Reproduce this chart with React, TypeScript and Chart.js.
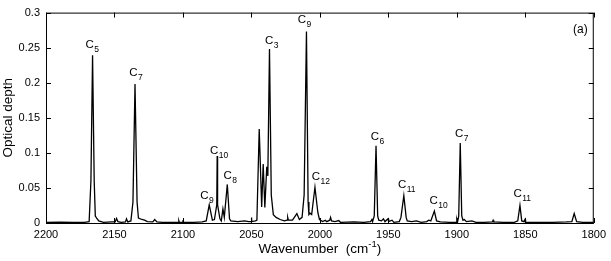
import React, { useEffect, useRef } from "react";
import { Chart, registerables } from "chart.js";

Chart.register(...registerables);

// Spectrum (wavenumber in cm^-1, optical depth)
const wavenumber = [
  2200, 2190, 2180, 2172, 2168.5, 2167.2, 2166, 2164.8, 2164, 2163, 2161.5, 2158, 2152,
  2149.5, 2148.5, 2147.5, 2145, 2142, 2141.2, 2140.3, 2138, 2136.5, 2135, 2133.5, 2132.5,
  2130, 2128, 2126, 2122, 2120.6, 2119, 2115, 2108, 2103.2, 2103, 2102.7, 2100.3, 2100,
  2099.7, 2092, 2086, 2083, 2080.8, 2078.5, 2077, 2075.3, 2075, 2074.7, 2073, 2072, 2070.8,
  2069.8, 2067.6, 2066, 2065, 2060, 2055, 2052, 2050.3, 2050, 2049.7, 2047, 2046, 2044.3,
  2042.5, 2041.4, 2040.2, 2038.8, 2038, 2036.8, 2035.5, 2034, 2032, 2029, 2026, 2024,
  2023.5, 2023, 2020, 2016.8, 2015, 2013, 2011.5, 2009.8, 2008.6, 2008, 2007.2, 2006,
  2003.6, 2001.5, 2000.3, 1998, 1996, 1995, 1992.8, 1992.2, 1991.5, 1989, 1986.2, 1985,
  1975, 1968, 1963, 1962, 1961.5, 1960.3, 1959, 1957.8, 1957, 1955, 1953.6, 1952.5, 1950.2,
  1949.8, 1947.3, 1946, 1942, 1940.8, 1938.7, 1937, 1936.2, 1933, 1929.5, 1926, 1922,
  1920.5, 1919, 1916.4, 1914.8, 1912, 1905, 1900.3, 1900, 1899.5, 1898.6, 1897.5, 1896.4,
  1895.5, 1894.5, 1893, 1889, 1886, 1880, 1874, 1873.5, 1873, 1866, 1858, 1855.5, 1853.9,
  1852.6, 1851, 1850.2, 1849.8, 1840, 1830, 1820, 1816, 1814.3, 1812.5, 1808, 1800,
];
const opticalDepth = [
  0.001, 0.0012, 0.0008, 0.001, 0.002, 0.06, 0.239, 0.06, 0.01, 0.007, 0.003, 0.001, 0.0015,
  0.0015, 0.0065, 0.002, 0.001, 0.0015, 0.006, 0.0015, 0.003, 0.03, 0.198, 0.03, 0.007,
  0.005, 0.004, 0.002, 0.0015, 0.005, 0.0015, 0.001, 0.001, 0.001, 0.003, 0.001, 0.001, 0.004,
  0.001, 0.001, 0.0015, 0.003, 0.026, 0.004, 0.005, 0.026, 0.0955, 0.026, 0.006, 0.003, 0.02,
  0.008, 0.055, 0.006, 0.003, 0.002, 0.003, 0.002, 0.002, 0.008, 0.002, 0.003, 0.004, 0.134,
  0.023, 0.084, 0.022, 0.08, 0.067, 0.248, 0.04, 0.012, 0.008, 0.005, 0.003, 0.004,
  0.008, 0.004, 0.004, 0.0135, 0.005, 0.008, 0.04, 0.273, 0.03, 0.012, 0.014, 0.012,
  0.051, 0.015, 0.005, 0.002, 0.004, 0.002, 0.004, 0.008, 0.003, 0.002, 0.0035, 0.001,
  0.0015, 0.001, 0.002, 0.005, 0.002, 0.01, 0.11, 0.01, 0.004, 0.003, 0.006, 0.002, 0.006,
  0.002, 0.004, 0.001, 0.002, 0.008, 0.039, 0.008, 0.003, 0.002, 0.003, 0.001, 0.002,
  0.004, 0.003, 0.017, 0.003, 0.0015, 0.001, 0.001, 0.005, 0.001, 0.01, 0.114, 0.01,
  0.004, 0.005, 0.002, 0.003, 0.001, 0.001, 0.0015, 0.004, 0.0015, 0.001, 0.001, 0.003, 0.025,
  0.003, 0.002, 0.005, 0.001, 0.001, 0.001, 0.0015, 0.002, 0.0135, 0.002, 0.001, 0.001,
];

// Peak annotations: C_n labels (anchor in data units)
const labelWavenumber = [
  2168.1, 2136.2, 2084.3, 2077.2, 2067.4, 2037.1, 2013.2, 2002.9, 1959.9, 1940.0, 1916.9,
  1898.3, 1855.6,
];
const labelDepth = [
  0.249, 0.21, 0.034, 0.099, 0.063, 0.255, 0.285, 0.062, 0.119, 0.05, 0.027, 0.122, 0.0366,
];
const labelSubscript = ["5", "7", "9", "10", "8", "3", "9", "12", "6", "11", "10", "7", "11"];

const xTicks = [2200, 2150, 2100, 2050, 2000, 1950, 1900, 1850, 1800];
const yTicks = [0, 0.05, 0.1, 0.15, 0.2, 0.25, 0.3];
const xTitle = "Wavenumber";
const xUnit = "(cm";
const xUnitSup = "-1";
const yTitle = "Optical depth";
const panelTag = "(a)";

const FONT = "'Liberation Sans', Arial, Helvetica, sans-serif";

const overlay = {
  id: "overlay",
  afterDraw(chart: any) {
    const { ctx, chartArea: a, scales } = chart;
    const xs = scales.x;
    const ys = scales.y;
    ctx.save();
    ctx.strokeStyle = "#000";
    ctx.lineWidth = 1;
    ctx.strokeRect(a.left + 0.5, a.top + 0.5, a.right - a.left - 1, a.bottom - a.top);
    const TL = 5;
    ctx.beginPath();
    xTicks.forEach((v) => {
      const px = Math.round(xs.getPixelForValue(v)) + 0.5;
      ctx.moveTo(px, a.bottom);
      ctx.lineTo(px, a.bottom - TL);
      ctx.moveTo(px, a.top);
      ctx.lineTo(px, a.top + TL);
    });
    yTicks.forEach((v) => {
      const py = Math.round(ys.getPixelForValue(v)) + 0.5;
      ctx.moveTo(a.left, py);
      ctx.lineTo(a.left + TL, py);
      ctx.moveTo(a.right, py);
      ctx.lineTo(a.right - TL, py);
    });
    ctx.stroke();

    // peak labels
    ctx.fillStyle = "#000";
    ctx.textBaseline = "alphabetic";
    labelWavenumber.forEach((w, i) => {
      const px = xs.getPixelForValue(w);
      const py = ys.getPixelForValue(labelDepth[i]);
      ctx.font = `11.5px ${FONT}`;
      ctx.textAlign = "center";
      ctx.fillText("C", px, py);
      const cw = ctx.measureText("C").width;
      ctx.font = `8.5px ${FONT}`;
      ctx.textAlign = "left";
      ctx.fillText(labelSubscript[i], px + cw / 2 + 0.5, py + 4);
    });

    // panel tag
    ctx.font = `12px ${FONT}`;
    ctx.textAlign = "right";
    ctx.fillText(panelTag, a.right - 6, a.top + 20);

    // x title with superscript
    ctx.font = `13.5px ${FONT}`;
    const part1 = xTitle + "  " + xUnit;
    const w1 = ctx.measureText(part1).width;
    ctx.font = `9.5px ${FONT}`;
    const w2 = ctx.measureText(xUnitSup).width;
    ctx.font = `13.5px ${FONT}`;
    const w3 = ctx.measureText(")").width;
    const total = w1 + w2 + w3;
    const cx = (a.left + a.right) / 2;
    const by = 253;
    const x0 = cx - total / 2;
    ctx.textAlign = "left";
    ctx.fillText(part1, x0, by);
    ctx.font = `9.5px ${FONT}`;
    ctx.fillText(xUnitSup, x0 + w1, by - 6);
    ctx.font = `13.5px ${FONT}`;
    ctx.fillText(")", x0 + w1 + w2, by);

    // y title
    ctx.translate(12, (a.top + a.bottom) / 2);
    ctx.rotate(-Math.PI / 2);
    ctx.textAlign = "center";
    ctx.fillText(yTitle, 0, 0);
    ctx.restore();
  },
};

export default function App() {
  const ref = useRef<HTMLCanvasElement | null>(null);
  useEffect(() => {
    if (!ref.current) return;
    Chart.defaults.font.family = FONT;
    const chart = new Chart(ref.current, {
      type: "line",
      data: {
        datasets: [
          {
            data: wavenumber.map((x, i) => ({ x, y: opticalDepth[i] })),
            borderColor: "#000",
            borderWidth: 1.3,
            pointRadius: 0,
            tension: 0,
            fill: false,
          },
        ],
      },
      options: {
        animation: false,
        responsive: true,
        maintainAspectRatio: false,
        layout: { padding: { top: 7, right: 13, left: 0, bottom: 0 } },
        plugins: { legend: { display: false }, tooltip: { enabled: false } },
        scales: {
          x: {
            type: "linear",
            min: 1800,
            max: 2200,
            reverse: true,
            afterFit: (s: any) => {
              s.height = 38;
            },
            afterBuildTicks: (s: any) => {
              s.ticks = xTicks.map((v) => ({ value: v }));
            },
            grid: { display: false, drawTicks: false },
            border: { display: false },
            ticks: {
              color: "#000",
              font: { size: 11 },
              padding: 5,
              maxRotation: 0,
              autoSkip: false,
              callback: (v: any) => String(Number(v)),
            },
          },
          y: {
            type: "linear",
            min: 0,
            max: 0.3,
            afterFit: (s: any) => {
              s.width = 46;
            },
            afterBuildTicks: (s: any) => {
              s.ticks = yTicks.map((v) => ({ value: v }));
            },
            grid: { display: false, drawTicks: false },
            border: { display: false },
            ticks: {
              color: "#000",
              font: { size: 11 },
              padding: 6,
              autoSkip: false,
              callback: (v: any) => String(Number(Number(v).toFixed(3))),
            },
          },
        },
      },
      plugins: [overlay],
    });
    return () => chart.destroy();
  }, []);
  return (
    <div style={{ position: "fixed", left: 0, top: 0, width: 611, height: 261, background: "#fff" }}>
      <canvas ref={ref} />
    </div>
  );
}
